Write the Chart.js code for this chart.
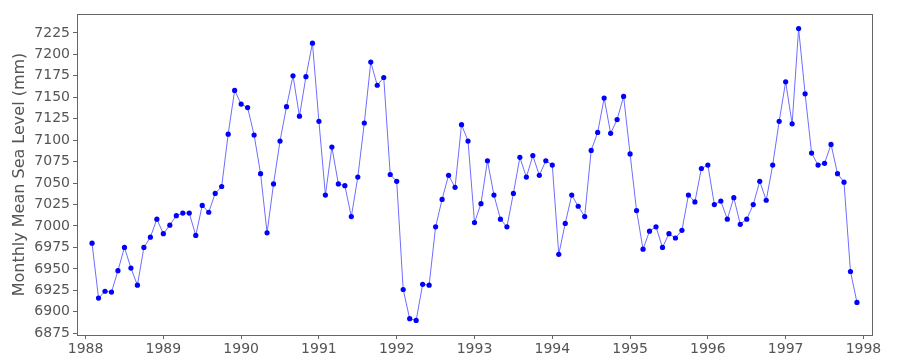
<!DOCTYPE html>
<html>
<head>
<meta charset="utf-8">
<script src="https://cdn.jsdelivr.net/npm/chart.js@4.4.0/dist/chart.umd.min.js"></script>
<style>
  html, body { margin: 0; padding: 0; background: #fff; }
</style>
</head>
<body>
<canvas id="seaChart" width="900" height="360"></canvas>
<script>
// monthly mean sea level (mm), Feb 1988 .. Dec 1997
var years = [1988, 1989, 1990, 1991, 1992, 1993, 1994, 1995, 1996, 1997];
var level1988 = [6980, 6916, 6924, 6923, 6948, 6975, 6951, 6931, 6975, 6987, 7008]; // Feb-Dec
var level1989 = [6991, 7001, 7012, 7015, 7015, 6989, 7024, 7016, 7038, 7046, 7107, 7158];
var level1990 = [7142, 7138, 7106, 7061, 6992, 7049, 7099, 7139, 7175, 7128, 7174, 7213];
var level1991 = [7122, 7036, 7092, 7049, 7047, 7011, 7057, 7120, 7191, 7164, 7173, 7060];
var level1992 = [7052, 6926, 6892, 6890, 6932, 6931, 6999, 7031, 7059, 7045, 7118, 7099];
var level1993 = [7004, 7026, 7076, 7036, 7008, 6999, 7038, 7080, 7057, 7082, 7059, 7076];
var level1994 = [7071, 6967, 7003, 7036, 7023, 7011, 7088, 7109, 7149, 7108, 7124, 7151];
var level1995 = [7084, 7018, 6973, 6994, 6999, 6975, 6991, 6986, 6995, 7036, 7028, 7067];
var level1996 = [7071, 7025, 7029, 7008, 7033, 7002, 7008, 7025, 7052, 7030, 7071, 7122];
var level1997 = [7168, 7119, 7230, 7154, 7085, 7071, 7073, 7095, 7061, 7051, 6947, 6911];
var yTicks = [6875, 6900, 6925, 6950, 6975, 7000, 7025, 7050, 7075, 7100, 7125, 7150, 7175, 7200, 7225];

var levelsByYear = [level1988, level1989, level1990, level1991, level1992,
                    level1993, level1994, level1995, level1996, level1997];

// x = decimal year of each month; 1988 starts in February
var points = [];
levelsByYear.forEach(function (vals, i) {
  var firstMonth = 12 - vals.length;
  vals.forEach(function (v, k) {
    points.push({ x: years[i] + (firstMonth + k) / 12, y: v });
  });
});

Chart.defaults.font.family = "'DejaVu Sans', sans-serif";
Chart.defaults.color = "#555";

var framePlugin = {
  id: "frame",
  afterDraw: function (chart) {
    var a = chart.chartArea;
    var ctx = chart.ctx;
    ctx.save();
    ctx.strokeStyle = "#666";
    ctx.lineWidth = 1;
    ctx.strokeRect(Math.round(a.left) + 0.5, Math.round(a.top) + 0.5,
                   Math.round(a.width), Math.round(a.height));
    ctx.restore();
  }
};

new Chart(document.getElementById("seaChart").getContext("2d"), {
  type: "scatter",
  data: {
    datasets: [
      {
        data: points,
        showLine: true,
        borderColor: "rgb(110, 110, 255)",
        borderWidth: 1,
        backgroundColor: "#0000ff",
        pointBackgroundColor: "#0000ff",
        pointBorderWidth: 0,
        pointRadius: 2.6,
        tension: 0,
      },
    ],
  },
  options: {
    responsive: false,
    animation: false,
    layout: { padding: { top: 14, right: 28, left: 0, bottom: 0 } },
    plugins: { legend: { display: false }, tooltip: { enabled: false } },
    scales: {
      x: {
        type: "linear",
        min: 1987.89,
        max: 1998.11,
        afterFit: function (scale) { scale.height = 25; },
        border: { display: false },
        grid: { drawOnChartArea: false, drawTicks: true, tickLength: 4, color: "#666" },
        ticks: {
          stepSize: 1,
          includeBounds: false,
          autoSkip: false,
          maxRotation: 0,
          padding: 2,
          font: { size: 14 },
          callback: function (v) { return String(v); },
        },
      },
      y: {
        min: 6873,
        max: 7247,
        afterFit: function (scale) { scale.width = 77; },
        afterBuildTicks: function (scale) {
          scale.ticks = yTicks.map(function (v) { return { value: v }; });
        },
        border: { display: false },
        grid: { drawOnChartArea: false, drawTicks: true, tickLength: 4, color: "#666" },
        title: {
          display: true,
          text: "Monthly Mean Sea Level (mm)",
          font: { size: 16 },
          color: "#555",
          padding: { top: 10, bottom: 0 },
        },
        ticks: {
          autoSkip: false,
          padding: 3,
          font: { size: 14 },
          callback: function (v) { return String(v); },
        },
      },
    },
  },
  plugins: [framePlugin],
});
</script>
</body>
</html>
